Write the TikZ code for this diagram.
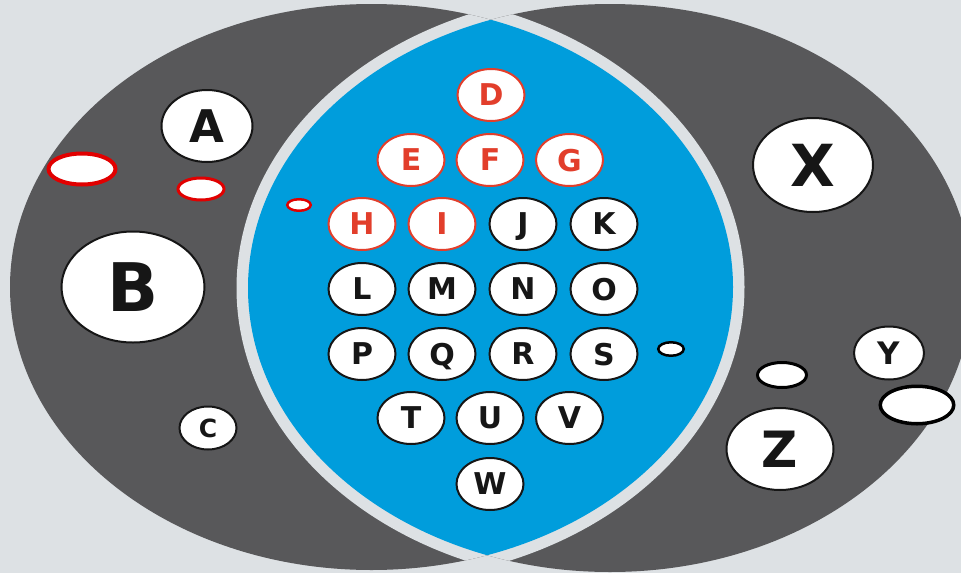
\documentclass[tikz,border=0pt]{standalone}
\usepackage{fontspec}
\setsansfont{DejaVu Sans}
\usetikzlibrary{shapes.geometric}
\definecolor{bgc}{RGB}{221,225,228}
\definecolor{darkc}{RGB}{88,88,90}
\definecolor{lensc}{RGB}{0,157,220}
\definecolor{redc}{RGB}{226,62,43}
\definecolor{holered}{RGB}{225,0,0}
\definecolor{ink}{RGB}{22,22,22}
\tikzset{
  keybox/.style={ellipse, draw=ink, line width=2pt, fill=white, inner sep=0pt, text depth=0pt, text=ink},
  lenskey/.style={keybox, minimum width=67pt, minimum height=52pt, font=\sffamily\bfseries\fontsize{30}{30}\selectfont},
  redkey/.style={lenskey, draw=redc, text=redc},
  holer/.style={ellipse, draw=holered, fill=white, inner sep=0pt},
  holeb/.style={ellipse, draw=black, fill=white, inner sep=0pt},
  lensrim/.style={draw=bgc, line width=23pt}
}
\begin{document}
\begin{tikzpicture}[x=1pt, y=-1pt]
\useasboundingbox (0,0) rectangle (961,573);
\clip (0,0) rectangle (961,573);
\fill[bgc] (0,0) rectangle (961,573);
% the two sets
\fill[darkc] (371.5,287) ellipse [x radius=361.5pt, y radius=283pt];
\fill[darkc] (610,288) ellipse [x radius=362pt, y radius=284pt];
% light rim round their intersection
\begin{scope}
  \clip (371.5,287) ellipse [x radius=361.5pt, y radius=283pt];
  \draw[lensrim] (610,288) ellipse [x radius=362pt, y radius=284pt];
\end{scope}
\begin{scope}
  \clip (610,288) ellipse [x radius=362pt, y radius=284pt];
  \draw[lensrim] (371.5,287) ellipse [x radius=361.5pt, y radius=283pt];
\end{scope}
% the intersection
\begin{scope}
  \clip (371.5,287) ellipse [x radius=361.5pt, y radius=283pt];
  \fill[lensc] (610,288) ellipse [x radius=362pt, y radius=284pt];
\end{scope}
% keys in the intersection
\node[redkey] (D) at (491,95) {D};
\node[redkey] (E) at (411,160) {E};
\node[redkey] (F) at (490,160) {F};
\node[redkey] (G) at (569.5,160) {G};
\node[redkey] (H) at (362,224) {H};
\node[redkey] (I) at (442,224) {I};
\node[lenskey] (J) at (523,224) {J};
\node[lenskey] (K) at (604,224) {K};
\node[lenskey] (L) at (362,289) {L};
\node[lenskey] (M) at (442,289) {M};
\node[lenskey] (N) at (523,289) {N};
\node[lenskey] (O) at (604,289) {O};
\node[lenskey] (P) at (362,354) {P};
\node[lenskey] (Q) at (442,354) {Q};
\node[lenskey] (R) at (523,354) {R};
\node[lenskey] (S) at (604,354) {S};
\node[lenskey] (T) at (411,418) {T};
\node[lenskey] (U) at (490,418) {U};
\node[lenskey] (V) at (569.5,418) {V};
\node[lenskey] (W) at (490,484) {W};
% keys in the left set
\node[keybox, minimum width=91pt, minimum height=72pt, font=\sffamily\bfseries\fontsize{45}{45}\selectfont] (A) at (207,126) {A};
\node[keybox, minimum width=143pt, minimum height=111pt, font=\sffamily\bfseries\fontsize{67}{67}\selectfont] (B) at (133,287) {B};
\node[keybox, minimum width=57pt, minimum height=43pt, font=\sffamily\bfseries\fontsize{25}{25}\selectfont] (C) at (208,428) {C};
% keys in the right set
\node[keybox, minimum width=120pt, minimum height=94pt, font=\sffamily\bfseries\fontsize{58}{58}\selectfont] (X) at (813,165) {X};
\node[keybox, minimum width=70pt, minimum height=53pt, font=\sffamily\bfseries\fontsize{31}{31}\selectfont] (Y) at (889,353) {Y};
\node[keybox, minimum width=107pt, minimum height=82pt, font=\sffamily\bfseries\fontsize{50}{50}\selectfont] (Z) at (780,449) {Z};
% empty ellipses
\node[holer, line width=4pt, minimum width=67pt, minimum height=31pt] (r1) at (82,169) {};
\node[holer, line width=3pt, minimum width=46pt, minimum height=22pt] (r2) at (201,189) {};
\node[holer, line width=2.5pt, minimum width=23.5pt, minimum height=11.5pt] (r3) at (299,205) {};
\node[holeb, line width=2.5pt, minimum width=25.5pt, minimum height=13.5pt] (b1) at (671,349) {};
\node[holeb, line width=3pt, minimum width=49pt, minimum height=25pt] (b2) at (782,375) {};
\node[holeb, line width=3.5pt, minimum width=73.5pt, minimum height=37.5pt] (b3) at (917,405) {};
\end{tikzpicture}
\end{document}
